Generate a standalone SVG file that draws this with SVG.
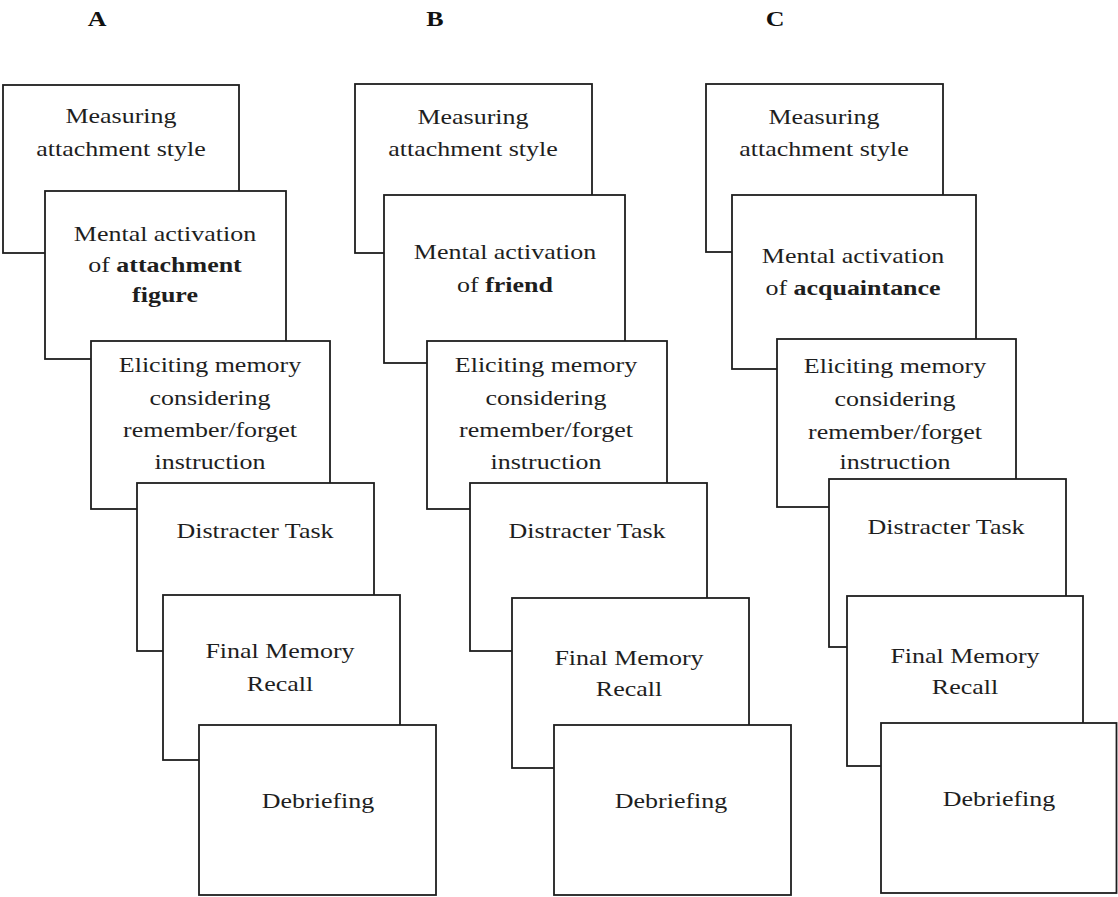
<svg xmlns="http://www.w3.org/2000/svg" width="1118" height="897" viewBox="0 0 1118 897">
<style>
  .box { fill: #ffffff; stroke: #1e1e1e; stroke-width: 1.8; }
  .t { font-family: "Liberation Serif", "Times New Roman", serif; font-size: 22px; fill: #1e1e1e; text-anchor: middle; }
  .b { font-weight: bold; }
  .h { font-family: "Liberation Serif", "Times New Roman", serif; font-size: 22px; font-weight: bold; fill: #111; text-anchor: middle; }
</style>
<rect width="1118" height="897" fill="#ffffff"/>

<g id="headers">
  <g transform="translate(97 0) scale(1.18 1)"><text class="h" x="0" y="26">A</text></g>
  <g transform="translate(435 0) scale(1.18 1)"><text class="h" x="0" y="26">B</text></g>
  <g transform="translate(775 0) scale(1.18 1)"><text class="h" x="0" y="26">C</text></g>
</g>

<g id="connectors"></g>

<!-- Column A -->
<g id="A1">
  <rect class="box" x="3" y="85" width="236" height="168"/>
  <g transform="translate(121 0) scale(1.18 1)">
    <text class="t" x="0" y="123">Measuring</text>
    <text class="t" x="0" y="156">attachment style</text>
  </g>
</g>
<g id="A2">
  <rect class="box" x="45" y="191" width="241" height="168"/>
  <g transform="translate(165 0) scale(1.18 1)">
    <text class="t" x="0" y="241">Mental activation</text>
    <text class="t" x="0" y="272">of <tspan class="b">attachment</tspan></text>
    <text class="t b" x="0" y="302">figure</text>
  </g>
</g>
<g id="A3">
  <rect class="box" x="91" y="341" width="239" height="168"/>
  <g transform="translate(210 0) scale(1.18 1)">
    <text class="t" x="0" y="372">Eliciting memory</text>
    <text class="t" x="0" y="405">considering</text>
    <text class="t" x="0" y="437">remember/forget</text>
    <text class="t" x="0" y="469">instruction</text>
  </g>
</g>
<g id="A4">
  <rect class="box" x="137" y="483" width="237" height="168"/>
  <g transform="translate(255 0) scale(1.18 1)">
    <text class="t" x="0" y="538">Distracter Task</text>
  </g>
</g>
<g id="A5">
  <rect class="box" x="163" y="595" width="237" height="165"/>
  <g transform="translate(280 0) scale(1.18 1)">
    <text class="t" x="0" y="658">Final Memory</text>
    <text class="t" x="0" y="691">Recall</text>
  </g>
</g>
<g id="A6">
  <rect class="box" x="199" y="725" width="237" height="170"/>
  <g transform="translate(318 0) scale(1.18 1)">
    <text class="t" x="0" y="808">Debriefing</text>
  </g>
</g>

<!-- Column B -->
<g id="B1">
  <rect class="box" x="355" y="84" width="237" height="169"/>
  <g transform="translate(473 0) scale(1.18 1)">
    <text class="t" x="0" y="124">Measuring</text>
    <text class="t" x="0" y="156">attachment style</text>
  </g>
</g>
<g id="B2">
  <rect class="box" x="384" y="195" width="241" height="168"/>
  <g transform="translate(505 0) scale(1.18 1)">
    <text class="t" x="0" y="259">Mental activation</text>
    <text class="t" x="0" y="292">of <tspan class="b">friend</tspan></text>
  </g>
</g>
<g id="B3">
  <rect class="box" x="427" y="341" width="240" height="168"/>
  <g transform="translate(546 0) scale(1.18 1)">
    <text class="t" x="0" y="372">Eliciting memory</text>
    <text class="t" x="0" y="405">considering</text>
    <text class="t" x="0" y="437">remember/forget</text>
    <text class="t" x="0" y="469">instruction</text>
  </g>
</g>
<g id="B4">
  <rect class="box" x="470" y="483" width="237" height="168"/>
  <g transform="translate(587 0) scale(1.18 1)">
    <text class="t" x="0" y="538">Distracter Task</text>
  </g>
</g>
<g id="B5">
  <rect class="box" x="512" y="598" width="237" height="170"/>
  <g transform="translate(629 0) scale(1.18 1)">
    <text class="t" x="0" y="665">Final Memory</text>
    <text class="t" x="0" y="696">Recall</text>
  </g>
</g>
<g id="B6">
  <rect class="box" x="554" y="725" width="237" height="170"/>
  <g transform="translate(671 0) scale(1.18 1)">
    <text class="t" x="0" y="808">Debriefing</text>
  </g>
</g>

<!-- Column C -->
<g id="C1">
  <rect class="box" x="706" y="84" width="237" height="168"/>
  <g transform="translate(824 0) scale(1.18 1)">
    <text class="t" x="0" y="124">Measuring</text>
    <text class="t" x="0" y="156">attachment style</text>
  </g>
</g>
<g id="C2">
  <rect class="box" x="732" y="195" width="244" height="174"/>
  <g transform="translate(853 0) scale(1.18 1)">
    <text class="t" x="0" y="263">Mental activation</text>
    <text class="t" x="0" y="295">of <tspan class="b">acquaintance</tspan></text>
  </g>
</g>
<g id="C3">
  <rect class="box" x="777" y="339" width="239" height="168"/>
  <g transform="translate(895 0) scale(1.18 1)">
    <text class="t" x="0" y="373">Eliciting memory</text>
    <text class="t" x="0" y="406">considering</text>
    <text class="t" x="0" y="439">remember/forget</text>
    <text class="t" x="0" y="469">instruction</text>
  </g>
</g>
<g id="C4">
  <rect class="box" x="829" y="479" width="237" height="168"/>
  <g transform="translate(946 0) scale(1.18 1)">
    <text class="t" x="0" y="534">Distracter Task</text>
  </g>
</g>
<g id="C5">
  <rect class="box" x="847" y="596" width="236" height="170"/>
  <g transform="translate(965 0) scale(1.18 1)">
    <text class="t" x="0" y="663">Final Memory</text>
    <text class="t" x="0" y="694">Recall</text>
  </g>
</g>
<g id="C6">
  <rect class="box" x="881" y="723" width="235.5" height="170"/>
  <g transform="translate(999 0) scale(1.18 1)">
    <text class="t" x="0" y="806">Debriefing</text>
  </g>
</g>
</svg>
